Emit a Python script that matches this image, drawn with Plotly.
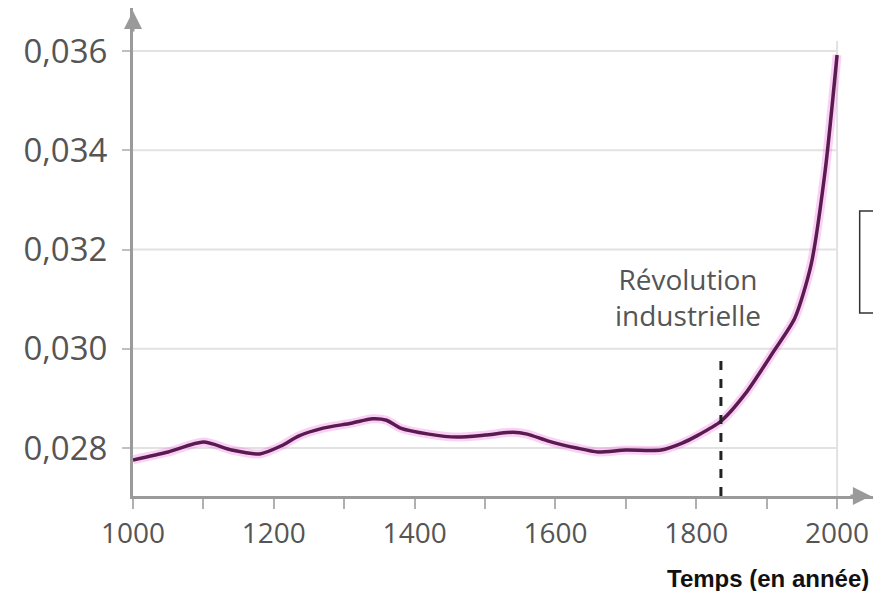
import plotly.graph_objects as go

years = [1000, 1050, 1100, 1140, 1180, 1210, 1235, 1270, 1310, 1340, 1360, 1380,
         1420, 1460, 1500, 1540, 1560, 1590, 1630, 1660, 1700, 1750, 1780, 1800,
         1835, 1870, 1910, 1940, 1963, 1983, 2000]
co2 = [0.02776, 0.02792, 0.02812, 0.02796, 0.02788, 0.02804, 0.02824, 0.0284,
       0.0285, 0.02859, 0.02856, 0.0284, 0.02828, 0.02822, 0.02826, 0.02832,
       0.02828, 0.02814, 0.028, 0.02792, 0.02796, 0.02796, 0.0281, 0.02824,
       0.02854, 0.0291, 0.02995, 0.03062, 0.03169, 0.03358, 0.03592]

x_ticks = [1000, 1200, 1400, 1600, 1800, 2000]
x_minor = [1100, 1300, 1500, 1700, 1900]
y_ticks = [0.028, 0.030, 0.032, 0.034, 0.036]
revolution_year = 1835
revolution_label = "Révolution<br>industrielle"
x_title = "Temps (en année)"

X_RANGE = [1000, 2051]
Y_RANGE = [0.027033, 0.036867]
AXIS_GRAY = "#9a9a9a"
GRID_GRAY = "#e2e2e2"

fig = go.Figure()

# pink halo
fig.add_trace(go.Scatter(x=years, y=co2, mode="lines",
                         line=dict(color="rgba(240,120,225,0.35)", width=9, shape="spline", smoothing=0.7),
                         hoverinfo="skip", showlegend=False))
fig.add_trace(go.Scatter(x=years, y=co2, mode="lines",
                         line=dict(color="#5a1b50", width=3.5, shape="spline", smoothing=0.7),
                         showlegend=False))

shapes = []
for yv in y_ticks:
    shapes.append(dict(type="line", xref="x", yref="y", x0=x_ticks[0], x1=x_ticks[-1],
                       y0=yv, y1=yv, line=dict(color=GRID_GRAY, width=2), layer="below"))
shapes.append(dict(type="line", xref="x", yref="y", x0=x_ticks[-1], x1=x_ticks[-1],
                   y0=Y_RANGE[0], y1=y_ticks[-1] + 0.0002, line=dict(color=GRID_GRAY, width=2), layer="below"))
# dashed revolution line
shapes.append(dict(type="line", xref="x", yref="y", x0=revolution_year, x1=revolution_year,
                   y0=Y_RANGE[0], y1=0.02988, line=dict(color="#222222", width=3, dash="dash")))
# box at right edge
shapes.append(dict(type="rect", xref="paper", yref="paper", x0=0.982, x1=1.04,
                   y0=(488 - 305) / 488, y1=(488 - 203) / 488,
                   line=dict(color="#333333", width=1.5), fillcolor="rgba(0,0,0,0)"))

annotations = [
    dict(x=1788, y=0.03105, xref="x", yref="y", text=revolution_label,
         showarrow=False, font=dict(family="Open Sans", size=28, color="#555555"),
         align="center", xanchor="center", yanchor="middle"),
    dict(x=0.997, y=-0.17, xref="paper", yref="paper", text="<b>" + x_title + "</b>",
         showarrow=False, xanchor="right", yanchor="middle",
         font=dict(family="Liberation Sans Narrow, Liberation Sans, Open Sans", size=24, color="#111111")),
    # axis arrows
    dict(x=X_RANGE[1] - 3, y=Y_RANGE[0], xref="x", yref="y", ax=-22, ay=0, text="",
         showarrow=True, arrowhead=2, arrowsize=1.2, arrowwidth=3, arrowcolor=AXIS_GRAY),
    dict(x=X_RANGE[0], y=Y_RANGE[1] - 0.00006, xref="x", yref="y", ax=0, ay=22, text="",
         showarrow=True, arrowhead=2, arrowsize=1.2, arrowwidth=3, arrowcolor=AXIS_GRAY),
]

fig.update_layout(
    width=881, height=591,
    margin=dict(l=125, r=16, t=0, b=103),
    plot_bgcolor="white", paper_bgcolor="white",
    separators=", ",
    shapes=shapes, annotations=annotations,
    xaxis=dict(range=X_RANGE, tickvals=x_ticks, ticktext=[str(v) for v in x_ticks],
               showgrid=False, zeroline=False, showline=True, linecolor=AXIS_GRAY, linewidth=3,
               ticks="outside", ticklen=10, tickwidth=2, tickcolor="#b0b0b0",
               minor=dict(tickvals=x_minor, ticks="outside", ticklen=10, tickwidth=2, tickcolor="#b0b0b0"),
               tickfont=dict(family="Open Sans", size=28, color="#555555")),
    yaxis=dict(range=Y_RANGE, tickvals=y_ticks, tickformat=".3f",
               showgrid=False, zeroline=False, showline=True, linecolor=AXIS_GRAY, linewidth=3,
               ticks="outside", ticklen=8, tickwidth=2, tickcolor="#c0c0c0",
               ticklabelstandoff=8,
               tickfont=dict(family="Open Sans", size=33, color="#555555")),
)

fig.write_html("out.html")
